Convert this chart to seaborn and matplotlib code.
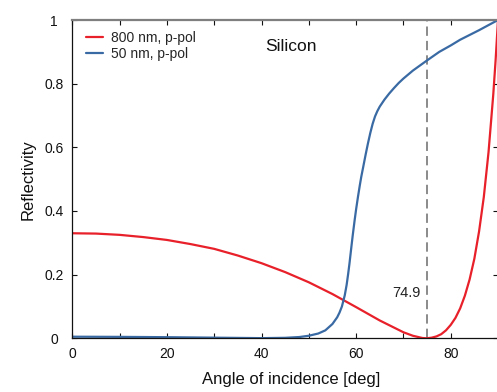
import matplotlib
matplotlib.use("Agg")
import matplotlib.pyplot as plt
import seaborn as sns
import pandas as pd

# Reflectivity of silicon vs. angle of incidence, p-polarised light
angle_800 = [0, 5, 10, 15, 20, 25, 30, 35, 40, 45, 50, 55, 60, 65, 70, 72, 74, 74.9,
             76, 77, 78, 79, 80, 81, 82, 83, 84, 85, 86, 87, 88, 89, 89.5, 90]
refl_800 = [0.330, 0.329, 0.325, 0.318, 0.309, 0.296, 0.281, 0.260, 0.236, 0.208,
            0.176, 0.139, 0.098, 0.056, 0.019, 0.008, 0.001, 0.0, 0.002, 0.006,
            0.013, 0.025, 0.042, 0.064, 0.094, 0.134, 0.185, 0.250, 0.336, 0.444,
            0.585, 0.766, 0.875, 1.0]

angle_50 = [0, 10, 20, 30, 40, 45, 48, 50, 52, 53.5, 55, 56, 56.5, 57, 57.6, 58,
            58.3, 58.6, 59, 59.3, 59.7, 60, 60.4, 60.8, 61.1, 61.5, 62, 62.5, 63,
            63.5, 64, 64.5, 65, 66, 67, 68, 69, 70, 72, 74.9, 77.6, 80, 82, 84, 86,
            88, 90]
refl_50 = [0.005, 0.0045, 0.0035, 0.002, 0.0005, 0.0015, 0.004, 0.008, 0.015,
           0.025, 0.045, 0.066, 0.081, 0.100, 0.135, 0.168, 0.200, 0.235, 0.287,
           0.325, 0.372, 0.405, 0.445, 0.482, 0.508, 0.538, 0.576, 0.612, 0.645,
           0.674, 0.697, 0.714, 0.728, 0.750, 0.769, 0.786, 0.802, 0.816, 0.841,
           0.872, 0.900, 0.920, 0.938, 0.953, 0.968, 0.984, 1.0]

series_labels = ["800 nm, p-pol", "50 nm, p-pol"]
brewster_angle = 74.9
x_ticks = [0, 20, 40, 60, 80]
y_ticks = [0, 0.2, 0.4, 0.6, 0.8, 1.0]
y_tick_labels = ["0", "0.2", "0.4", "0.6", "0.8", "1"]

df = pd.concat([
    pd.DataFrame({"angle": angle_800, "R": refl_800, "series": series_labels[0]}),
    pd.DataFrame({"angle": angle_50, "R": refl_50, "series": series_labels[1]}),
], ignore_index=True)

sns.set_theme(style="ticks")
plt.rcParams["font.family"] = ["Liberation Sans", "DejaVu Sans"]

W, H = 497, 392
fig = plt.figure(figsize=(W / 100, H / 100), dpi=100)
left_px, right_px, top_px, bottom_px = 72.3, 498.0, 20.0, 338.3
ax = fig.add_axes([left_px / W, (H - bottom_px) / H,
                   (right_px - left_px) / W, (bottom_px - top_px) / H])

palette = {series_labels[0]: "#e8202a", series_labels[1]: "#3a6aa3"}
sns.lineplot(data=df, x="angle", y="R", hue="series", palette=palette,
             linewidth=1.6, ax=ax, sort=False, estimator=None)

ax.axvline(brewster_angle, color="#8a8a8a", linewidth=1.4, dashes=(4.8, 2.6), zorder=1)
ax.text(brewster_angle - 1.3, 0.143, f"{brewster_angle}", ha="right", va="center",
        fontsize=10.5, color="#222222")
ax.text(40.7, 0.917, "Silicon", ha="left", va="center", fontsize=12.5, color="#111111")

ax.set_xlim(0, 90)
ax.set_ylim(0, 1)
ax.set_xticks(x_ticks)
ax.set_xticks(range(0, 91, 10), minor=True)
ax.set_yticks(y_ticks)
ax.set_yticklabels(y_tick_labels)
for lab in ax.get_yticklabels():
    lab.set_horizontalalignment("center")

ax.tick_params(axis="both", which="both", direction="in", colors="#111111",
               labelsize=10, width=0.8, top=True, right=True)
ax.tick_params(axis="x", which="major", length=3.5, pad=6)
ax.tick_params(axis="x", which="minor", length=3.5)
ax.tick_params(axis="y", which="major", length=3.5, pad=13)

for side in ("left", "bottom"):
    ax.spines[side].set_color("#111111")
    ax.spines[side].set_linewidth(0.9)
ax.spines["top"].set_color("#7f7f7f")
ax.spines["top"].set_linewidth(1.6)
ax.spines["right"].set_visible(False)

ax.set_xlabel("Angle of incidence [deg]", fontsize=12, color="#111111")
ax.set_ylabel("Reflectivity", fontsize=12, color="#111111")
ax.xaxis.set_label_coords(0.513, -0.106)
ax.yaxis.set_label_coords(-0.085, 0.5)

leg = ax.legend(loc="upper left", bbox_to_anchor=(0.032, 0.967), frameon=False,
                fontsize=10, handlelength=1.2, handletextpad=0.6,
                labelspacing=0.2, borderpad=0, borderaxespad=0, title=None)

fig.savefig("out.png", dpi=100)
